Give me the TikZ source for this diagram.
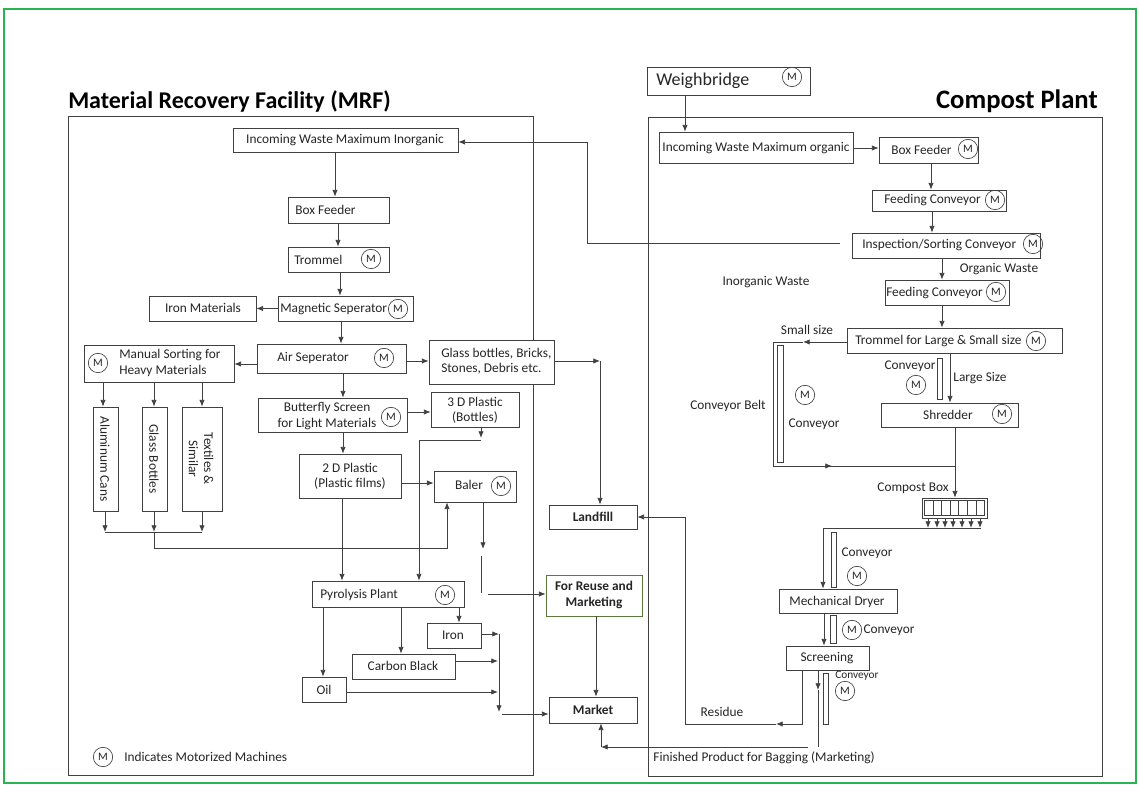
\documentclass[tikz,border=0pt]{standalone}
\usepackage{fontspec}
\setmainfont{Carlito}
\usetikzlibrary{arrows.meta}
\definecolor{frameg}{RGB}{40,180,80}
\definecolor{reuseg}{RGB}{90,120,60}
\newcommand\bx[6][]{%
  \pgfmathsetmacro\bw{(#5-#3)*0.75}%
  \pgfmathsetmacro\bh{(#6-#4)*0.75}%
  \node[box,minimum width=\bw pt,minimum height=\bh pt,#1] (#2) at ({(#3+#5)/2},{(#4+#6)/2}) {};}
\begin{document}
\begin{tikzpicture}[x=0.75pt,y=-0.75pt,
  ln/.style={draw=black!75,line width=0.6pt},
  arr/.style={ln,-{Latex[length=5pt,width=4pt]}},
  box/.style={draw=black!75,line width=0.6pt,inner sep=0pt,fill=white},
  txt/.style={font=\fontsize{10}{11.5}\selectfont,inner sep=0pt,align=center,text=black!85},
  lt/.style={txt,anchor=west,align=left},
  bt/.style={txt,font=\fontsize{10}{11.5}\selectfont\bfseries},
  mc/.style={circle,draw=black!75,line width=0.5pt,minimum width=14.5pt,minimum height=13.5pt,inner sep=0pt,font=\fontsize{8.5}{8.5}\selectfont,text=black!85},
  title/.style={font=\fontsize{18}{20}\selectfont\bfseries,inner sep=0pt,anchor=base west}
]
\useasboundingbox (0,0) rectangle (1140,787);
\fill[white] (0,0) rectangle (1140,787);
\draw[frameg,line width=1.2pt] (4,9) rectangle (1136,783);

% section frames
\draw[ln] (68,116) rectangle (533,775);
\draw[ln] (648,117) rectangle (1102,776);
\node[title] (t-mrf) at (68,109) {Material Recovery Facility (MRF)};
\node[title,anchor=base east,font=\fontsize{20}{22}\selectfont\bfseries] (t-cp) at (1098,109) {Compost Plant};

% ---------------- MRF boxes ----------------
\bx{inorg}{233}{128}{458}{152}
\bx{boxf}{288}{197}{389}{223}
\bx{tromm}{288}{247}{389}{272}
\bx{magn}{278}{296}{413}{321}
\bx{ironm}{149}{296}{256}{321}
\bx{air}{257}{344}{406}{373}
\bx{manual}{84}{345}{234}{382}
\bx{glass}{429}{340}{554}{384}
\bx{bfly}{258}{398}{407}{432}
\bx{p3d}{431}{392}{519}{427}
\bx{p2d}{299}{454}{401}{498}
\bx{baler}{434}{471}{516}{502}
\bx{pyro}{312}{581}{464}{607}
\bx{alu}{93}{407}{118}{511}
\bx{gbot}{142}{407}{167}{511}
\bx{texb}{182}{407}{222}{511}
\bx{landfill}{549}{505}{637}{529}
\bx[draw=reuseg]{reuse}{546}{575}{642}{616}
\bx{market}{549}{697}{637}{723}
\bx{iron}{427}{623}{481}{648}
\bx{carbon}{352}{654}{455}{679}
\bx{oil}{302}{677}{346}{702}

% MRF texts
\node[txt] (inorg-t) at (345,140) {Incoming Waste Maximum Inorganic};
\node[lt] (boxf-t) at (295,210) {Box Feeder};
\node[lt] (tromm-t) at (294,260) {Trommel};
\node[mc] (tromm-m) at (371,259) {M};
\node[lt] (magn-t) at (280,309) {Magnetic Seperator};
\node[mc] (magn-m) at (398,309) {M};
\node[txt] (ironm-t) at (203,308) {Iron Materials};
\node[txt] (air-t) at (313,358) {Air Seperator};
\node[mc] (air-m) at (384,358) {M};
\node[mc] (manual-m) at (98,363) {M};
\node[lt] (manual-t) at (119,363) {Manual Sorting for\\Heavy Materials};
\node[lt] (glass-t) at (441,361) {Glass bottles, Bricks,\\Stones, Debris etc.};
\node[txt] (bfly-t) at (327,416) {Butterfly Screen\\for Light Materials};
\node[mc] (bfly-m) at (391,417) {M};
\node[txt] (p3d-t) at (475,410) {3 D Plastic\\(Bottles)};
\node[txt] (p2d-t) at (350,476) {2 D Plastic\\(Plastic films)};
\node[txt] (baler-t) at (469,485) {Baler};
\node[mc] (baler-m) at (501,486) {M};
\node[lt] (pyro-t) at (320,595) {Pyrolysis Plant};
\node[mc] (pyro-m) at (445,595) {M};
\node[txt,rotate=-90] (alu-t) at (105,459) {Aluminum Cans};
\node[txt,rotate=-90] (gbot-t) at (154,459) {Glass Bottles};
\node[txt,rotate=-90] (texb-t) at (201,459) {Textiles \&\\Similar};
\node[bt] (landfill-t) at (593,517) {Landfill};
\node[bt] (reuse-t) at (594,595) {For Reuse and\\Marketing};
\node[bt] (market-t) at (593,710) {Market};
\node[txt] (iron-t) at (453,635) {Iron};
\node[txt] (carbon-t) at (403,666) {Carbon Black};
\node[txt] (oil-t) at (324,690) {Oil};
\node[mc] (leg-m) at (103,757) {M};
\node[lt] (leg-t) at (124,757) {Indicates Motorized Machines};

% MRF connectors
\draw[arr] (inorg.south -| 335,0) -- (boxf.north -| 335,0);
\draw[arr] (boxf.south -| 338,0) -- (tromm.north -| 338,0);
\draw[arr] (tromm.south -| 340,0) -- (magn.north -| 340,0);
\draw[arr] (magn.west) -- (ironm.east);
\draw[arr] (magn.south -| 341,0) -- (air.north -| 341,0);
\draw[arr] (air.west |- 0,364) -- (manual.east |- 0,364);
\draw[arr] (407,361) -- (glass.west |- 0,361);
\draw[arr] (air.south -| 343,0) -- (bfly.north -| 343,0);
\draw[arr] (bfly.east |- 0,412) -- (p3d.west |- 0,412);
\draw[arr] (bfly.south -| 343,0) -- (p2d.north -| 343,0);
\draw[arr] (p2d.east |- 0,483) -- (baler.west |- 0,483);
\coordinate (gl-c) at (600,361);
\draw[arr] (glass.east |- 0,361) -- (gl-c);
\draw[arr] (gl-c) -- (landfill.north -| gl-c);
\coordinate (p3-c) at (481,440);
\draw[arr] (p3d.south -| p3-c) -- (481,438);
\draw[arr] (p3-c) -- (419,440) -- (pyro.north -| 419,0);
\draw[arr] (p2d.south -| 342,0) -- (pyro.north -| 342,0);
\draw[arr] (manual.south -| 103,0) -- (alu.north -| 103,0);
\draw[arr] (manual.south -| 154,0) -- (gbot.north -| 154,0);
\draw[arr] (manual.south -| 202,0) -- (texb.north -| 202,0);
\draw[arr] (alu.south -| 105,0) -- (105,532);
\draw[arr] (gbot.south -| 154,0) -- (154,532);
\draw[arr] (texb.south -| 202,0) -- (202,532);
\coordinate (col-l) at (105,532);
\coordinate (col-r) at (202,532);
\draw[ln] (col-l) -- (col-r);
\draw[arr] (154,532) -- (154,548) -- (447,548) -- (baler.south -| 447,0);
\coordinate (bl-a) at (483,549);
\draw[arr] (baler.south -| bl-a) -- (bl-a);
\coordinate (bl-b) at (481,556);
\draw[ln] (bl-b) -- (481,593);
\coordinate (bl-c) at (488,594);
\draw[arr] (bl-c) -- (reuse.west |- bl-c);
\draw[arr] (reuse.south -| 596,0) -- (market.north -| 596,0);
\draw[arr] (pyro.south -| 459,0) -- (iron.north -| 459,0);
\draw[arr] (pyro.south -| 401,0) -- (carbon.north -| 401,0);
\draw[arr] (pyro.south -| 323,0) -- (oil.north -| 323,0);
\coordinate (ir-c) at (499,634);
\draw[arr] (iron.east |- ir-c) -- (ir-c);
\draw[arr] (ir-c) -- (499,712);
\coordinate (mk-c) at (502,714);
\draw[arr] (mk-c) -- (market.west |- mk-c);
\draw[arr] (carbon.east |- 0,661) -- (498,661);
\draw[arr] (oil.east |- 0,692) -- (498,692);

% ---------------- Compost boxes ----------------
\bx{weigh}{647}{67}{810}{95}
\bx{org}{659}{132}{853}{163}
\bx{cbf}{879}{137}{978}{163}
\bx{fc1}{872}{190}{1006}{211}
\bx{insp}{852}{233}{1040}{258}
\bx{fc2}{885}{280}{1009}{305}
\bx{ctrom}{847}{328}{1062}{353}
\bx{shred}{881}{403}{1018}{427}
\bx{dryer}{779}{589}{897}{613}
\bx{screen}{786}{646}{869}{670}
\bx{cbox}{922}{498}{987}{518}
\bx{cb1}{777}{345}{783}{462}
\bx{cv1}{937}{358}{942}{399}
\bx{cv2}{831}{532}{836}{587}
\bx{cv3}{830}{615}{836}{643}
\bx{cv4}{823}{673}{828}{724}
% compost box cells
\draw[ln,line width=0.5pt] (924.5,500.5) rectangle (984.5,515.5);
\foreach \k in {1,...,6}{\draw[ln,line width=0.5pt] ({924.5+\k*60/7},500.5) -- ({924.5+\k*60/7},515.5);}

% Compost texts
\node[lt,font=\fontsize{13.5}{15}\selectfont] (weigh-t) at (656,81) {Weighbridge};
\node[mc] (weigh-m) at (792,77) {M};
\node[txt] (org-t) at (756,148) {Incoming Waste Maximum organic};
\node[lt] (cbf-t) at (891,150) {Box Feeder};
\node[mc] (cbf-m) at (968,149) {M};
\node[lt] (fc1-t) at (884,200) {Feeding Conveyor};
\node[mc] (fc1-m) at (995,200) {M};
\node[lt] (insp-t) at (862,245) {Inspection/Sorting Conveyor};
\node[mc] (insp-m) at (1033,244) {M};
\node[lt] (fc2-t) at (886,293) {Feeding Conveyor};
\node[mc] (fc2-m) at (996,292) {M};
\node[lt] (ctrom-t) at (855,341) {Trommel for Large \& Small size};
\node[mc] (ctrom-m) at (1036,341) {M};
\node[txt] (shred-t) at (948,415) {Shredder};
\node[mc] (shred-m) at (1002,414) {M};
\node[txt] (dryer-t) at (837,602) {Mechanical Dryer};
\node[txt] (screen-t) at (827,658) {Screening};
\node[txt] (cbox-t) at (913,488) {Compost Box};
\node[txt] (inw-t) at (766,282) {Inorganic Waste};
\node[txt] (ow-t) at (999,269) {Organic Waste};
\node[txt] (ss-t) at (807,330) {Small size};
\node[txt] (cbelt-t) at (728,406) {Conveyor Belt};
\node[mc] (cb1-m) at (805,395) {M};
\node[txt] (cb1-t) at (814,424) {Conveyor};
\node[txt] (cv1-t) at (910,366) {Conveyor};
\node[mc] (cv1-m) at (916,385) {M};
\node[txt] (ls-t) at (980,378) {Large Size};
\node[txt] (cv2-t) at (867,553) {Conveyor};
\node[mc] (cv2-m) at (857,576) {M};
\node[mc] (cv3-m) at (852,630) {M};
\node[txt] (cv3-t) at (889,630) {Conveyor};
\node[txt,font=\fontsize{8.5}{9}\selectfont] (cv4-t) at (857,676) {Conveyor};
\node[mc] (cv4-m) at (845,691) {M};
\node[txt] (res-t) at (722,712) {Residue};
\node[txt] (fin-t) at (764,758) {Finished Product for Bagging (Marketing)};

% Compost connectors
\draw[arr] (weigh.south -| 685,0) -- (org.north -| 685,0);
\draw[arr] (org.east |- 0,148) -- (cbf.west |- 0,148);
\draw[arr] (cbf.south -| 931,0) -- (fc1.north -| 931,0);
\draw[arr] (fc1.south -| 932,0) -- (insp.north -| 932,0);
\coordinate (insp-c) at (840,243);
\draw[arr] (insp-c) -- (587,243) -- (587,142) -- (inorg.east |- 0,142);
\draw[arr] (insp.south -| 942,0) -- (fc2.north -| 942,0);
\draw[arr] (fc2.south -| 942,0) -- (ctrom.north -| 942,0);
\coordinate (ss-c) at (803,342);
\draw[arr] (ctrom.west |- ss-c) -- (ss-c);
\coordinate (sh-j) at (955,466);
\draw[ln] (ss-c) -- (773,342) -- (773,466) -- (sh-j);
\draw[arr] (773,466) -- (832,466);
\draw[arr] (ctrom.south -| 950,0) -- (shred.north -| 950,0);
\draw[arr] (shred.south -| 955,0) -- (cbox.north -| 955,0);
\foreach \xx in {928,937,945,953,962,971,980}{\draw[arr] (cbox.south -| \xx,0) -- (\xx,528);}
\coordinate (cb-r) at (981,528);
\draw[arr] (cb-r) -- (823,528) -- (dryer.north -| 823,0);
\draw[arr] (dryer.south -| 824,0) -- (screen.north -| 824,0);
\coordinate (res-c) at (776,724);
\draw[arr] (screen.south -| 802,0) -- (802,724) -- (res-c);
\draw[arr] (res-c) -- (685,724) -- (685,517) -- (landfill.east);
\coordinate (fin-c) at (818,690);
\draw[arr] (screen.south -| fin-c) -- (fin-c);
\draw[ln] (fin-c) -- (818,747);
\coordinate (fin-l) at (601,747);
\draw[arr] (808,747) -- (fin-l);
\draw[arr] (fin-l) -- (market.south -| fin-l);
\end{tikzpicture}
\end{document}
